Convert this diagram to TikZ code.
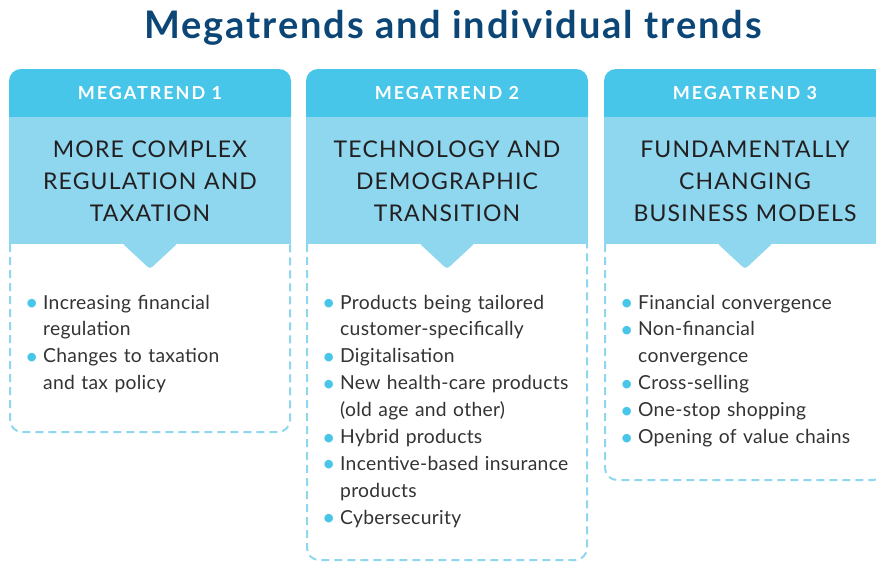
\documentclass[tikz,border=0pt]{standalone}
\usepackage{fontspec}
\setmainfont{Lato}
\newfontfamily\hdfont[LetterSpace=11]{Lato}
\newfontfamily\ttlfont[LetterSpace=5]{Lato}
\newfontfamily\mainfont[LetterSpace=5]{Lato}
\newfontfamily\bodyfont[LetterSpace=1.5]{Lato}
\definecolor{mtdark}{HTML}{48C6E9}
\definecolor{mtlight}{HTML}{8ED7EF}
\definecolor{mttitle}{HTML}{0B4677}
\definecolor{mttext}{HTML}{333333}
\definecolor{mthtext}{HTML}{231F20}
\newcommand{\bstart}[1]{\noindent\hangindent=14pt\hangafter=1\makebox[14pt][l]{\hspace{-4pt}\raisebox{-1.5pt}{\textcolor{mtdark}{\fontsize{23}{23}\selectfont\textbullet}}}#1}
\newcommand{\bitem}[1]{\par\bstart{#1}}
\newcommand{\mtbox}[2]{%
  \fill[mtdark] (#1,117) -- (#1,81) arc[start angle=180,end angle=270,radius=12] -- ({#1+270},69) arc[start angle=270,end angle=360,radius=12] -- ({#1+282},117) -- cycle;
  \fill[mtlight] (#1,117) rectangle ({#1+282},244);
  \fill[mtlight,rounded corners=3] ({#1+113},243) -- ({#1+141},269) -- ({#1+169},243) -- cycle;
  \draw[dashline] ({#1+1},244) -- ({#1+1},{#2-12}) arc[start angle=180,end angle=90,radius=12] -- ({#1+269},#2) arc[start angle=90,end angle=0,radius=12] -- ({#1+281},244);
}
\begin{document}
\begin{tikzpicture}[x=1pt,y=-1pt,
  dashline/.style={draw=mtlight,line width=2pt,dash pattern=on 8pt off 5pt},
  mainttl/.style={anchor=base,inner sep=0pt,text=mttitle,font=\mainfont\fontsize{38}{42}\selectfont\bfseries},
  mthead/.style={anchor=base,inner sep=0pt,text=white,font=\hdfont\fontsize{18}{20}\selectfont\bfseries},
  mtname/.style={anchor=base,inner sep=0pt,text width=276pt,align=center,text=mthtext,font=\ttlfont\fontsize{23}{32}\selectfont},
  mtlist/.style={anchor=base west,inner sep=0pt,text width=262pt,align=left,text=mttext,font=\bodyfont\fontsize{19.3}{26.9}\selectfont}]
\useasboundingbox (0,0) rectangle (876,562);
\clip (0,0) rectangle (876,562);
\fill[white] (0,0) rectangle (876,562);
\node[mainttl] (title) at (453,38) {Megatrends and individual trends};
\mtbox{9}{432}
\mtbox{306}{560}
\mtbox{604}{480}
\node[mthead] (m1) at (150,99) {MEGATREND 1};
\node[mthead] (m2) at (447,99) {MEGATREND 2};
\node[mthead] (m3) at (745,99) {MEGATREND 3};
\node[mtname] (n1) at (150,157) {MORE COMPLEX\\REGULATION AND\\TAXATION};
\node[mtname] (n2) at (447,157) {TECHNOLOGY AND\\DEMOGRAPHIC\\TRANSITION};
\node[mtname] (n3) at (745,157) {FUNDAMENTALLY\\CHANGING\\BUSINESS MODELS};
\node[mtlist] (l1) at (29,309) {\bstart{Increasing financial\newline regulation}\bitem{Changes to taxation\newline and tax policy}\par};
\node[mtlist] (l2) at (326,309) {\bstart{Products being tailored\newline customer-specifically}\bitem{Digitalisation}\bitem{New health-care products\newline (old age and other)}\bitem{Hybrid products}\bitem{Incentive-based insurance\newline products}\bitem{Cybersecurity}\par};
\node[mtlist] (l3) at (624,309) {\bstart{Financial convergence}\bitem{Non-financial\newline convergence}\bitem{Cross-selling}\bitem{One-stop shopping}\bitem{Opening of value chains}\par};
\end{tikzpicture}
\end{document}
